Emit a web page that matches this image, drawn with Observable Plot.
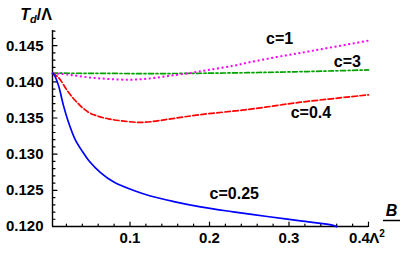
<!DOCTYPE html>
<html><head><meta charset="utf-8">
<script src="https://cdn.jsdelivr.net/npm/d3@7"></script>
<script src="https://cdn.jsdelivr.net/npm/@observablehq/plot@0.6"></script>
<style>
body{margin:0;background:#fff;}
#chart svg{font-family:"Liberation Sans",Arial,sans-serif;}
</style></head><body><div id="chart"></div>
<script>
// c = 0.25 (blue, solid)
const B_025 = [0.0025, 0.005, 0.01005, 0.01634, 0.02263, 0.03105, 0.04024, 0.04854, 0.06288, 0.07961, 0.10477, 0.12577, 0.15508, 0.18866, 0.22987, 0.27256, 0.31445, 0.35634, 0.35974];
const T_025 = [0.1412, 0.1409, 0.13948, 0.13671, 0.13441, 0.13202, 0.13036, 0.12905, 0.12746, 0.12615, 0.12497, 0.12421, 0.12345, 0.12272, 0.12203, 0.12138, 0.12077, 0.12014, 0.11996];
// c = 0.4 (red, dashed)
const B_04 = [0.0025, 0.010, 0.0226, 0.0352, 0.0478, 0.0604, 0.073, 0.09, 0.11, 0.1258, 0.151, 0.1875, 0.25, 0.3125, 0.4];
const T_04 = [0.1412, 0.1406, 0.13855, 0.13695, 0.13579, 0.13523, 0.13488, 0.1346, 0.1344, 0.13448, 0.13488, 0.13545, 0.1362, 0.13715, 0.1382];
// c = 1 (magenta, dotted)
const B_1 = [0.0025, 0.0226, 0.0478, 0.073, 0.1006, 0.1258, 0.151, 0.176, 0.2012, 0.229, 0.25, 0.293, 0.3245, 0.36, 0.4];
const T_1 = [0.1412, 0.1410, 0.14062, 0.1404, 0.1403, 0.14048, 0.14086, 0.14123, 0.14169, 0.1422, 0.1427, 0.1436, 0.1442, 0.1449, 0.1457];
// c = 3 (green, dash-dot)
const B_3 = [0.0025, 0.05, 0.1, 0.15, 0.2, 0.25, 0.3, 0.35, 0.4];
const T_3 = [0.1412, 0.14118, 0.14115, 0.14115, 0.1412, 0.14127, 0.14137, 0.1415, 0.14165];

// curve labels
const labelText = ["c=0.25", "c=0.4", "c=1", "c=3"];
const labelB = [0.2312, 0.3276, 0.2882, 0.3735];
const labelT = [0.12456, 0.13574, 0.14592, 0.14279];

// ticks
const xTicks = [0.1, 0.2, 0.3, 0.4];
const yTicks = [0.120, 0.125, 0.130, 0.135, 0.140, 0.145];
const xMinor = d3.range(1, 21).map(i => i * 0.02);
const yMinor = d3.range(0, 28).map(i => 0.12 + i * 0.001);

const toRows = (bs, ts) => bs.map((b, i) => ({B: b, T: ts[i]}));
const labels = labelText.map((t, i) => ({text: t, B: labelB[i], T: labelT[i]}));

const tickShape = {draw(ctx, l) { ctx.moveTo(0, 0); ctx.lineTo(0, -l); }};
const isMajor = (arr) => d => arr.some(t => Math.abs(t - d) < 1e-9);
const xMinorOnly = xMinor.filter(d => !isMajor(xTicks)(d));
const yMinorOnly = yMinor.filter(d => !isMajor(yTicks)(d));

const font = '"Liberation Sans", Arial, sans-serif';
const X0 = 0.0025, Y0 = 0.12;
const curve = "catmull-rom";

const plot = Plot.plot({
  width: 407, height: 260,
  marginLeft: 52, marginRight: 39, marginTop: 30, marginBottom: 34,
  style: {fontFamily: font, background: "white", color: "black"},
  x: {domain: [X0, 0.4]},
  y: {domain: [Y0, 0.1471]},
  marks: [
    Plot.axisX({ticks: xTicks.slice(0, 3), tickSize: 0, tickPadding: 6, tickFormat: d => String(d), label: null, fontSize: 15, fontWeight: "bold"}),
    Plot.axisX({ticks: xTicks.slice(3), tickSize: 0, tickPadding: 6, dx: -9, tickFormat: d => String(d), label: null, fontSize: 15, fontWeight: "bold"}),
    Plot.axisY({ticks: yTicks, tickSize: 0, tickPadding: 9, tickFormat: d3.format(".3f"), label: null, fontSize: 15, fontWeight: "bold"}),
    Plot.ruleY([Y0], {stroke: "black", strokeWidth: 1.4}),
    Plot.ruleX([X0], {stroke: "black", strokeWidth: 1.4}),
    Plot.vector(xMinorOnly, {x: d => d, y: () => Y0, length: 2.5, anchor: "start", shape: tickShape, stroke: "black", strokeWidth: 1.2}),
    Plot.vector(xTicks, {x: d => d, y: () => Y0, length: 4.5, anchor: "start", shape: tickShape, stroke: "black", strokeWidth: 1.2}),
    Plot.vector(yMinorOnly, {x: () => X0, y: d => d, length: 2.5, rotate: 90, anchor: "start", shape: tickShape, stroke: "black", strokeWidth: 1.2}),
    Plot.vector(yTicks, {x: () => X0, y: d => d, length: 4.5, rotate: 90, anchor: "start", shape: tickShape, stroke: "black", strokeWidth: 1.2}),
    Plot.line(toRows(B_3, T_3), {x: "B", y: "T", stroke: "#00a000", strokeWidth: 1.7, strokeDasharray: "5,2.5,2,2.5", curve}),
    Plot.line(toRows(B_1, T_1), {x: "B", y: "T", stroke: "#ff00ff", strokeWidth: 2, strokeDasharray: "2,2.6", strokeLinecap: "butt", curve}),
    Plot.line(toRows(B_04, T_04), {x: "B", y: "T", stroke: "#ff0000", strokeWidth: 1.7, strokeDasharray: "5.5,2.5", curve}),
    Plot.line(toRows(B_025, T_025), {x: "B", y: "T", stroke: "#0000ff", strokeWidth: 1.7, curve}),
    Plot.text(labels, {x: "B", y: "T", text: "text", fontSize: 16, fontWeight: "bold", fill: "black", textAnchor: "middle", lineAnchor: "middle"})
  ]
});

const svg = d3.select(plot);
// y-axis title T_d/Λ
const t = svg.append("text").attr("x", 36).attr("y", 20)
  .attr("font-family", font).attr("font-size", 16).attr("font-weight", "bold").attr("fill", "black");
t.append("tspan").attr("font-style", "italic").text("T");
t.append("tspan").attr("font-style", "italic").attr("font-size", 11).attr("dy", 3).text("d");
t.append("tspan").attr("dy", -3).text("/Λ");
// x-axis title B/Λ²
svg.append("text").attr("x", 391.5).attr("y", 215.5).attr("text-anchor", "middle")
  .attr("font-family", font).attr("font-size", 16).attr("font-weight", "bold").attr("font-style", "italic").attr("fill", "black").text("B");
svg.append("line").attr("x1", 383).attr("x2", 400).attr("y1", 220.5).attr("y2", 220.5).attr("stroke", "black").attr("stroke-width", 1.5);
const lam = svg.append("text").attr("x", 377).attr("y", 243)
  .attr("font-family", font).attr("font-size", 15).attr("font-weight", "bold").attr("fill", "black");
lam.append("tspan").text("Λ");
lam.append("tspan").attr("font-size", 10).attr("dy", -6).text("2");

document.getElementById("chart").appendChild(plot);
</script></body></html>
